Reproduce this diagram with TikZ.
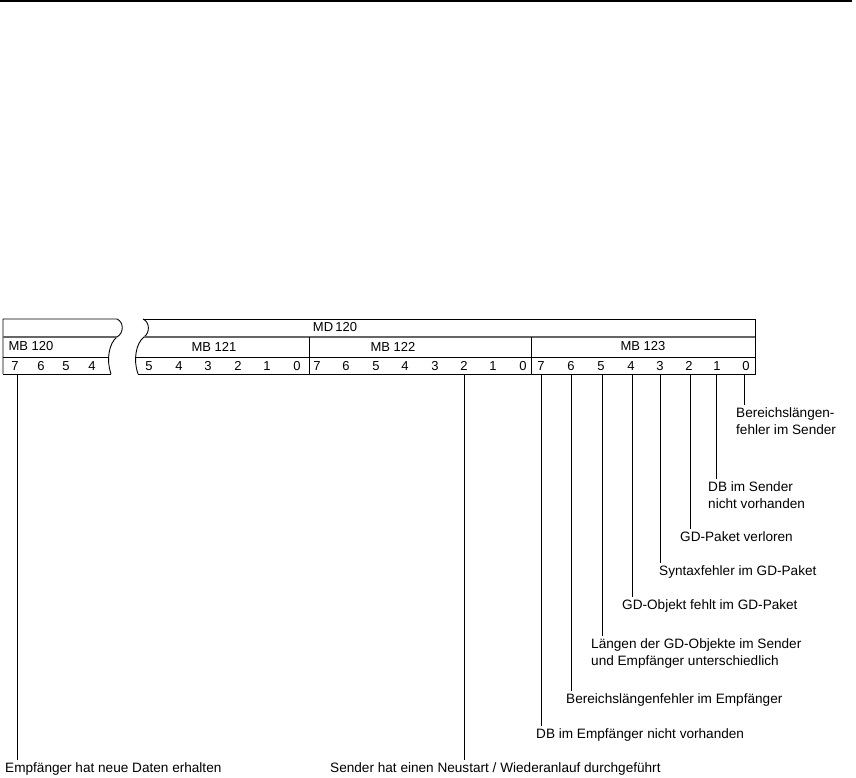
\documentclass[tikz,border=0pt]{standalone}
\usepackage{fontspec}
\setmainfont{Liberation Sans}
\begin{document}
\begin{tikzpicture}[x=1pt,y=-1pt,
  txt/.style={font=\fontsize{13}{17.5}\selectfont, inner sep=0pt},
  lbl/.style={font=\fontsize{13.6}{17.5}\selectfont, inner sep=0pt, align=left, anchor=north west},
  dig/.style={txt, anchor=base},
  frame/.style={line width=0.9pt},
  mid/.style={line width=1.7pt, draw=black!60},
  lead/.style={line width=0.9pt}]
\useasboundingbox (0,0) rectangle (856,777);
\draw[line width=1.4pt] (0,1) -- (852,1);
% left fragment (MB 120)
\draw[frame] (3,374) -- (3,319) -- (117,319)
  .. controls (124,322) and (124,333) .. (117,337)
  .. controls (109,343) and (106,360) .. (111,374);
\draw[mid] (3,337) -- (117,337);
\draw[frame] (3,357) -- (107.5,357);
\draw[frame] (3,374) -- (111,374);
% right fragment
\draw[frame] (143,319) -- (755,319) -- (755,374) -- (138,374);
\draw[frame] (143,319)
  .. controls (150,322) and (150,333) .. (144,337)
  .. controls (136,343) and (133,360) .. (138,374);
\draw[mid] (144,337) -- (755,337);
\draw[frame] (134.5,357) -- (755,357);
\draw[frame] (309,337) -- (309,374);
\draw[frame] (531,337) -- (531,374);
% headers
\node[txt] (md120) at (335,327.5) {MD\,120};
\node[txt] (mb120) at (31,346.5) {MB 120};
\node[txt] (mb121) at (214,346.5) {MB 121};
\node[txt] (mb122) at (393,346.5) {MB 122};
\node[txt] (mb123) at (643,346.5) {MB 123};
% digits MB 120
\node[dig] (a7) at (15,370) {7};
\node[dig] (a6) at (41,370) {6};
\node[dig] (a5) at (66,370) {5};
\node[dig] (a4) at (92,370) {4};
% digits MB 121
\node[dig] (b5) at (149,370) {5};
\node[dig] (b4) at (179,370) {4};
\node[dig] (b3) at (208,370) {3};
\node[dig] (b2) at (238,370) {2};
\node[dig] (b1) at (267,370) {1};
\node[dig] (b0) at (297,370) {0};
% digits MB 122
\node[dig] (c7) at (317,370) {7};
\node[dig] (c6) at (346,370) {6};
\node[dig] (c5) at (376,370) {5};
\node[dig] (c4) at (405,370) {4};
\node[dig] (c3) at (435,370) {3};
\node[dig] (c2) at (464,370) {2};
\node[dig] (c1) at (493,370) {1};
\node[dig] (c0) at (523,370) {0};
% digits MB 123
\node[dig] (d7) at (541,370) {7};
\node[dig] (d6) at (571,370) {6};
\node[dig] (d5) at (601,370) {5};
\node[dig] (d4) at (631,370) {4};
\node[dig] (d3) at (660,370) {3};
\node[dig] (d2) at (689,370) {2};
\node[dig] (d1) at (717,370) {1};
\node[dig] (d0) at (746,370) {0};
% lead start points (bottom edge of table)
\coordinate (ta7) at (17,374);
\coordinate (tc2) at (464,374);
\coordinate (td7) at (541,374);
\coordinate (td6) at (571,374);
\coordinate (td5) at (602,374);
\coordinate (td4) at (632,374);
\coordinate (td3) at (660,374);
\coordinate (td2) at (690,374);
\coordinate (td1) at (716,374);
\coordinate (td0) at (744,374);
% labels
\node[lbl] (L0) at (736,407) {Bereichslängen-\\fehler im Sender};
\node[lbl] (L1) at (708,481) {DB im Sender\\nicht vorhanden};
\node[lbl] (L2) at (680,531) {GD-Paket verloren};
\node[lbl] (L3) at (659,565) {Syntaxfehler im GD-Paket};
\node[lbl] (L4) at (622,599) {GD-Objekt fehlt im GD-Paket};
\node[lbl] (L5) at (591,638) {Längen der GD-Objekte im Sender\\und Empfänger unterschiedlich};
\node[lbl] (L6) at (566,693) {Bereichslängenfehler im Empfänger};
\node[lbl] (L7) at (536,728) {DB im Empfänger nicht vorhanden};
\node[lbl] (LA) at (5,762) {Empfänger hat neue Daten erhalten};
\node[lbl] (LC) at (330,762) {Sender hat einen Neustart / Wiederanlauf durchgeführt};
% leads
\draw[lead] (td0) -- ([yshift=2pt]td0 |- L0.north);
\draw[lead] (td1) -- ([yshift=2pt]td1 |- L1.north);
\draw[lead] (td2) -- ([yshift=2pt]td2 |- L2.north);
\draw[lead] (td3) -- ([yshift=2pt]td3 |- L3.north);
\draw[lead] (td4) -- ([yshift=2pt]td4 |- L4.north);
\draw[lead] (td5) -- ([yshift=2pt]td5 |- L5.north);
\draw[lead] (td6) -- ([yshift=2pt]td6 |- L6.north);
\draw[lead] (td7) -- ([yshift=2pt]td7 |- L7.north);
\draw[lead] (ta7) -- ([yshift=2pt]ta7 |- LA.north);
\draw[lead] (tc2) -- ([yshift=2pt]tc2 |- LC.north);
\end{tikzpicture}
\end{document}
